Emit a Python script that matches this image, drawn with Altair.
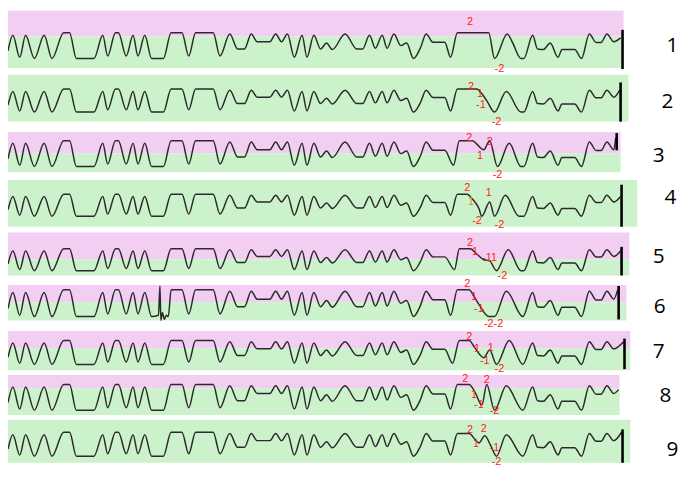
import altair as alt
import pandas as pd

head_t = [0, 5, 12, 18, 27, 37, 45, 57, 63, 70, 88, 97, 102, 110, 113, 121, 128, 133, 140, 147,
          159, 167, 178, 185, 192, 210, 217, 227, 235, 242, 249, 255, 268, 274, 280, 286, 293, 301, 306, 313,
          320, 326, 332, 345, 357, 363, 370, 376, 383, 388, 395, 402, 408, 415, 422, 428, 435, 447]
head_v = [0.3, 0.9, 0.05, 0.9, 0.0, 0.9, 0.0, 1.0, 1.0, 0.0, 0.0, 0.9, 0.1, 1.0, 1.0, 0.1, 0.9, 0.1, 0.9, 0.0,
          0.0, 1.0, 1.0, 0.1, 1.0, 1.0, 0.1, 0.95, 0.37, 0.37, 0.95, 0.65, 0.65, 0.95, 0.65, 0.95, 0.05, 0.9, 0.05, 0.9,
          0.37, 0.6, 0.35, 0.95, 0.37, 0.37, 0.9, 0.4, 0.9, 0.4, 0.95, 0.5, 0.6, 0.0, 0.4, 0.95, 0.63, 0.63]
tail_t = [537, 542, 548, 555, 563, 567, 580, 587, 595, 602, 607, 613, 620]
tail_v = [0.9, 0.37, 0.35, 0.6, 0.05, 0.35, 0.35, 0.0, 0.95, 0.62, 0.62, 0.95, 0.65]

# ---- annotated section, per trace
mid_t = {
    1: [453, 460, 492, 498, 511, 516, 525, 528],
    2: [453, 460, 480, 484, 490, 498, 510, 525, 528],
    3: [456, 462, 475, 487, 493, 501, 513, 525, 528],
    4: [453, 460, 470, 475, 482, 485, 493, 498, 509, 523, 528],
    5: [457, 462, 473, 480, 487, 493, 500, 512, 525, 528],
    6: [453, 460, 472, 477, 483, 492, 498, 510, 527],
    7: [455, 462, 472, 478, 487, 493, 500, 513, 527],
    8: [453, 460, 472, 478, 485, 490, 498, 510, 527],
    9: [453, 460, 472, 478, 482, 488, 494, 500, 510, 527],
}
mid_v = {
    1: [0.05, 1.0, 1.0, 0.0, 0.95, 0.65, 0.0, 0.0],
    2: [0.05, 1.0, 1.0, 0.85, 0.5, 0.0, 0.9, 0.0, 0.0],
    3: [0.05, 1.0, 1.0, 0.65, 1.0, 0.0, 0.9, 0.0, 0.0],
    4: [0.05, 1.0, 1.0, 0.8, 0.35, 0.0, 0.65, 0.0, 0.95, 0.0, 0.0],
    5: [0.05, 1.0, 1.0, 0.75, 0.5, 0.45, 0.0, 0.95, 0.0, 0.0],
    6: [0.05, 1.0, 1.0, 0.75, 0.4, 0.0, 0.0, 0.95, 0.0],
    7: [0.05, 1.0, 1.0, 0.68, 0.28, 0.6, 0.0, 1.0, 0.0],
    8: [0.05, 1.0, 1.0, 0.7, 0.2, 1.0, 0.0, 0.95, 0.0],
    9: [0.05, 0.95, 0.95, 0.7, 0.55, 0.85, 0.45, 0.0, 0.9, 0.0],
}
end_t = {1: 627, 2: 626, 3: 622, 4: 627, 5: 627, 6: 624, 7: 630, 8: 625, 9: 628}
end_v = {1: 0.8, 2: 0.95, 3: 1.1, 4: 0.9, 5: 0.9, 6: 1.0, 7: 0.95, 8: 0.8, 9: 1.0}

# artefact spike in trace 6
spike_t = [154, 155.5, 156.5, 158, 160, 162, 164]
spike_v = [0.05, 1.14, -0.14, 0.15, -0.1, 0.05, 0.0]

# ---- trace numbers
trace_ids = [1, 2, 3, 4, 5, 6, 7, 8, 9]
trace_names = ["1", "2", "3", "4", "5", "6", "7", "8", "9"]

# ---- annotations: trace, time, level, text, colour key
ann_row = [1, 1, 2, 2, 2, 2, 3, 3, 3, 3, 4, 4, 4, 4, 4, 5, 5, 5, 5, 6, 6, 6, 6, 7, 7, 7, 7, 7, 8, 8, 8, 8, 8, 9, 9, 9, 9, 9]
ann_t = [473, 503, 474, 483, 484, 500, 472, 483, 493, 501, 470, 474, 492, 480, 503, 473, 478, 493, 506, 470, 477, 482, 497,
         472, 480, 494, 488, 503, 468, 490, 477, 482, 498, 473, 487, 479, 498, 500]
ann_v = [1.41, -0.41, 1.08, 0.78, 0.3, -0.42, 1.11, 0.41, 0.96, -0.33, 1.30, 0.65, 1.04, -0.22, -0.39, 1.26, 0.83, 0.57, -0.26,
         1.21, 0.74, 0.3, -0.29, 1.16, 0.64, 0.68, 0.16, -0.2, 1.22, 1.19, 0.59, 0.19, -0.04, 1.08, 1.12, 0.52, 0.32, -0.24]
ann_text = ["2", "-2", "2", "1", "-1", "-2", "2", "1", "2", "-2", "2", "1", "1", "-2", "-2", "2", "1", "-11", "-2",
            "2", "1", "-1", "-2-2", "2", "1", "1", "-1", "-2", "2", "2", "1", "-1", "-2", "2", "2", "1", "-1", "-2"]
ann_kind = ["r"] * len(ann_text)
ann_kind[11] = "o"

# ---- layout of each strip (reference-pixel units)
band_top = {1: 0, 2: 67, 3: 127, 4: 177, 5: 232, 6: 287, 7: 335, 8: 381, 9: 428}
band_split = {1: 27, 2: None, 3: 149, 4: None, 5: 260, 6: 305, 7: 353, 8: 395, 9: None}
band_bottom = {1: 60, 2: 116, 3: 169, 4: 226, 5: 277, 6: 324, 7: 376, 8: 423, 9: 473}
band_right = {1: 630, 2: 635, 3: 627, 4: 644, 5: 636, 6: 633, 7: 637, 8: 626, 9: 637}
hi_y = {1: 23, 2: 82, 3: 136, 4: 192, 5: 249, 6: 292, 7: 345, 8: 391, 9: 441}
lo_y = {1: 50, 2: 106, 3: 163, 4: 215, 5: 272, 6: 320, 7: 370, 8: 418, 9: 466}
label_x = {1: 680, 2: 675, 3: 666, 4: 678, 5: 666, 6: 667, 7: 666, 8: 673, 9: 680}
label_y = {1: 37, 2: 96, 3: 152, 4: 196, 5: 258, 6: 310, 7: 357, 8: 403, 9: 460}
# end marker (stimulus bar) per strip: x, top, bottom
mark_x = {1: 629, 2: 627, 3: 623, 4: 628, 5: 628, 6: 625, 7: 631, 9: 629}
mark_top = {1: 20, 2: 75, 3: 128, 4: 182, 5: 247, 6: 288, 7: 343, 9: 438}
mark_bot = {1: 61, 2: 116, 3: 146, 4: 226, 5: 277, 6: 323, 7: 375, 9: 473}

PINK = "#F2CEF2"
GREEN = "#CCF2CC"


def to_y(r, v):
    return lo_y[r] - v * (lo_y[r] - hi_y[r])


# ---- build tables
rows = []
for r in trace_ids:
    pts = list(zip(head_t, head_v))
    if r == 6:
        pts = [p for p in pts if not (150 <= p[0] <= 162)] + list(zip(spike_t, spike_v))
    pts += list(zip(mid_t[r], mid_v[r])) + list(zip(tail_t, tail_v)) + [(end_t[r], end_v[r])]
    pts.sort(key=lambda p: p[0])
    for i, (t, v) in enumerate(pts):
        rows.append({"row": r, "i": i, "t": t, "y": to_y(r, v)})
trace_df = pd.DataFrame(rows)

bands = []
for r in trace_ids:
    if band_split[r] is None:
        bands.append({"x0": 0, "x1": band_right[r], "y0": band_top[r], "y1": band_bottom[r], "fill": GREEN})
    else:
        bands.append({"x0": 0, "x1": band_right[r], "y0": band_top[r], "y1": band_split[r], "fill": PINK})
        bands.append({"x0": 0, "x1": band_right[r], "y0": band_split[r], "y1": band_bottom[r], "fill": GREEN})
bands_df = pd.DataFrame(bands)

ann_df = pd.DataFrame({
    "t": ann_t,
    "y": [to_y(r, v) for r, v in zip(ann_row, ann_v)],
    "text": ann_text,
    "col": ["#FF1A1A" if k == "r" else "#E08A1E" for k in ann_kind],
})

lab_df = pd.DataFrame({
    "x": [label_x[r] for r in trace_ids],
    "y": [label_y[r] for r in trace_ids],
    "text": trace_names,
})

mk = [r for r in trace_ids if r in mark_x]
mark_df = pd.DataFrame({
    "x": [mark_x[r] for r in mk],
    "y1": [mark_top[r] for r in mk],
    "y2": [mark_bot[r] for r in mk],
})

W, H = 688, 470
xs = alt.Scale(domain=[0, 696], nice=False, zero=False)
ys = alt.Scale(domain=[486, 0], nice=False, zero=False)

band_layer = alt.Chart(bands_df).mark_rect().encode(
    x=alt.X("x0:Q", scale=xs, axis=None), x2="x1:Q",
    y=alt.Y("y0:Q", scale=ys, axis=None), y2="y1:Q",
    color=alt.Color("fill:N", scale=None),
)
trace_layer = alt.Chart(trace_df).mark_line(
    interpolate="monotone", color="#2a2a2a", strokeWidth=1.5
).encode(
    x=alt.X("t:Q", scale=xs, axis=None),
    y=alt.Y("y:Q", scale=ys, axis=None),
    detail="row:N",
    order="i:Q",
)
mark_layer = alt.Chart(mark_df).mark_rule(color="black", strokeWidth=2.6).encode(
    x=alt.X("x:Q", scale=xs, axis=None),
    y=alt.Y("y1:Q", scale=ys, axis=None), y2="y2:Q",
)
ann_layer = alt.Chart(ann_df).mark_text(
    font="Liberation Sans", fontSize=11, align="center", baseline="middle"
).encode(
    x=alt.X("t:Q", scale=xs, axis=None),
    y=alt.Y("y:Q", scale=ys, axis=None),
    text="text:N",
    color=alt.Color("col:N", scale=None),
)
lab_layer = alt.Chart(lab_df).mark_text(
    font="Open Sans", fontSize=21, align="center", baseline="middle", color="black"
).encode(
    x=alt.X("x:Q", scale=xs, axis=None),
    y=alt.Y("y:Q", scale=ys, axis=None),
    text="text:N",
)

chart = alt.layer(band_layer, trace_layer, mark_layer, ann_layer, lab_layer).properties(
    width=W, height=H, padding=0, autosize="none", background="white"
).configure_view(stroke=None)

chart.save("out.html", embed_options={"renderer": "svg", "actions": False})
